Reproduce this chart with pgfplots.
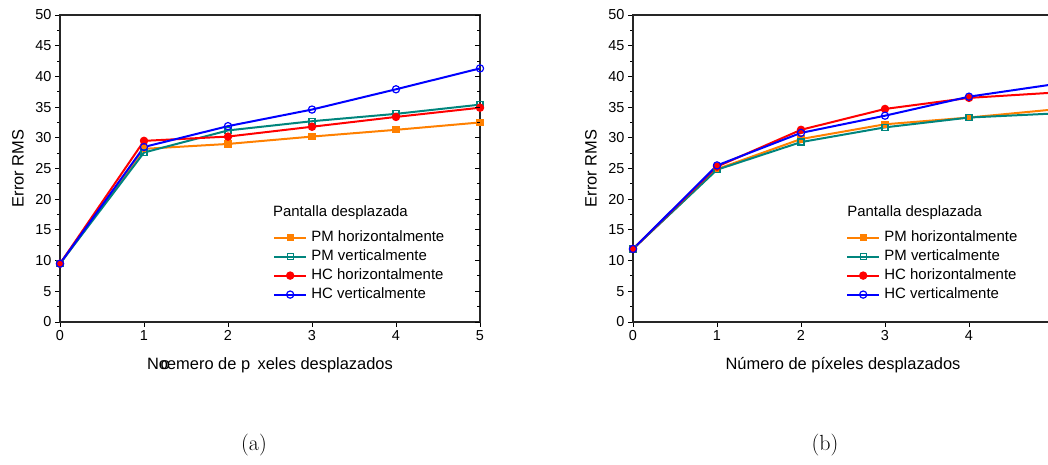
\documentclass[border=0pt]{standalone}
\usepackage{fontspec}
\newfontfamily\arial{Liberation Sans}
\usepackage{pgfplots}
\pgfplotsset{compat=1.18}
\definecolor{cOrange}{RGB}{255,128,0}
\definecolor{cTeal}{RGB}{0,133,125}
\definecolor{cRed}{RGB}{255,0,0}
\definecolor{cBlue}{RGB}{0,0,255}

\pgfplotsset{
  panel/.style={
    scale only axis, width=420bp, height=307bp,
    xmin=0, xmax=5, ymin=0, ymax=50,
    xtick={0,1,2,3,4,5}, ytick={0,5,...,50}, minor y tick num=1,
    xtick pos=bottom, ytick pos=left, tick align=outside,
    major tick length=5bp, minor tick length=3bp,
    axis line style={line width=1.3bp, black!85},
    every tick/.style={black, line width=0.9bp},
    tick label style={font=\arial\fontsize{14.5}{15}\selectfont},
    /pgf/number format/assume math mode=true,
    every axis y label/.style={at={(axis description cs:-0.1,0.5)}, rotate=90, anchor=center,
      font=\arial\fontsize{16.5}{18}\selectfont},
    every axis x label/.style={at={(axis description cs:0.5,-0.14)}, anchor=center,
      font=\arial\fontsize{16.5}{18}\selectfont},
    ylabel={Error RMS},
    legend style={draw=none, fill=none, at={(0.5,0.313)}, anchor=north west,
      font=\arial\fontsize{15}{19}\selectfont, column sep=2bp,
      nodes={inner sep=2.25bp, text height=11bp, text depth=3.5bp}},
    legend cell align=left,
    legend image code/.code={\draw[mark repeat=2, mark phase=2, ##1, line width=2bp] plot coordinates {(0bp,0bp) (16bp,0bp) (32bp,0bp)};},
  },
  pmh/.style={cOrange, line width=2bp, mark=square*, mark size=3bp, mark options={solid, line width=1.2bp, fill=cOrange}},
  pmv/.style={cTeal, line width=2bp, mark=square, mark size=3bp, mark options={solid, line width=1.2bp, fill=white}},
  hch/.style={cRed, line width=2bp, mark=*, mark size=3.6bp, mark options={solid, line width=1.2bp, fill=cRed}},
  hcv/.style={cBlue, line width=2bp, mark=o, mark size=3.6bp, mark options={solid, line width=1.2bp, fill=white}},
  rightticks/.style={
    scale only axis, width=420bp, height=307bp,
    xmin=0, xmax=5, ymin=0, ymax=50,
    xtick=\empty, ytick={0,5,...,50}, minor y tick num=1, yticklabels={},
    ytick pos=right, tick align=inside,
    major tick length=5bp, minor tick length=3bp,
    axis line style={draw=none},
    every tick/.style={black, line width=0.9bp},
  },
}

\begin{document}
\begin{tikzpicture}
% (a)
\begin{axis}[panel, at={(60bp,143bp)}, anchor=south west,
  xlabel={No\kern-0.45emœmero de p\hspace{0.45em}xeles desplazados}]
\addplot[pmh] coordinates {(0,9.5) (1,28.2) (2,29.0) (3,30.2) (4,31.3) (5,32.5)};
\addlegendentry{PM horizontalmente}
\addplot[pmv] coordinates {(0,9.5) (1,27.6) (2,31.2) (3,32.7) (4,33.9) (5,35.4)};
\addlegendentry{PM verticalmente}
\addplot[hch] coordinates {(0,9.5) (1,29.5) (2,30.2) (3,31.8) (4,33.4) (5,34.9)};
\addlegendentry{HC horizontalmente}
\addplot[hcv] coordinates {(0,9.5) (1,28.5) (2,31.9) (3,34.6) (4,37.9) (5,41.3)};
\addlegendentry{HC verticalmente}
\node[anchor=west, inner sep=0pt, font=\arial\fontsize{15}{18}\selectfont] at (axis description cs:0.507,0.355) {Pantalla desplazada};
\end{axis}
\begin{axis}[rightticks, at={(60bp,143bp)}, anchor=south west]
\end{axis}
% (b)
\begin{axis}[panel, at={(633bp,143bp)}, anchor=south west, xtick={0,1,2,3,4},
  xlabel={Número de píxeles desplazados}]
\addplot[pmh] coordinates {(0,11.9) (1,24.9) (2,29.8) (3,32.2) (4,33.3) (5,34.6)};
\addlegendentry{PM horizontalmente}
\addplot[pmv] coordinates {(0,11.9) (1,24.8) (2,29.3) (3,31.7) (4,33.3) (5,33.95)};
\addlegendentry{PM verticalmente}
\addplot[hch] coordinates {(0,11.9) (1,25.3) (2,31.3) (3,34.7) (4,36.5) (5,37.35)};
\addlegendentry{HC horizontalmente}
\addplot[hcv] coordinates {(0,11.9) (1,25.5) (2,30.8) (3,33.6) (4,36.7) (5,38.7)};
\addlegendentry{HC verticalmente}
\node[anchor=west, inner sep=0pt, font=\arial\fontsize{15}{18}\selectfont] at (axis description cs:0.51,0.355) {Pantalla desplazada};
\end{axis}
\node[font=\fontsize{22}{24}\selectfont] at (254bp,20bp) {(a)};
\node[font=\fontsize{22}{24}\selectfont] at (825bp,20bp) {(b)};
\pgfresetboundingbox
\path[use as bounding box] (0,0) rectangle (1048bp,465bp);
\end{tikzpicture}
\end{document}
